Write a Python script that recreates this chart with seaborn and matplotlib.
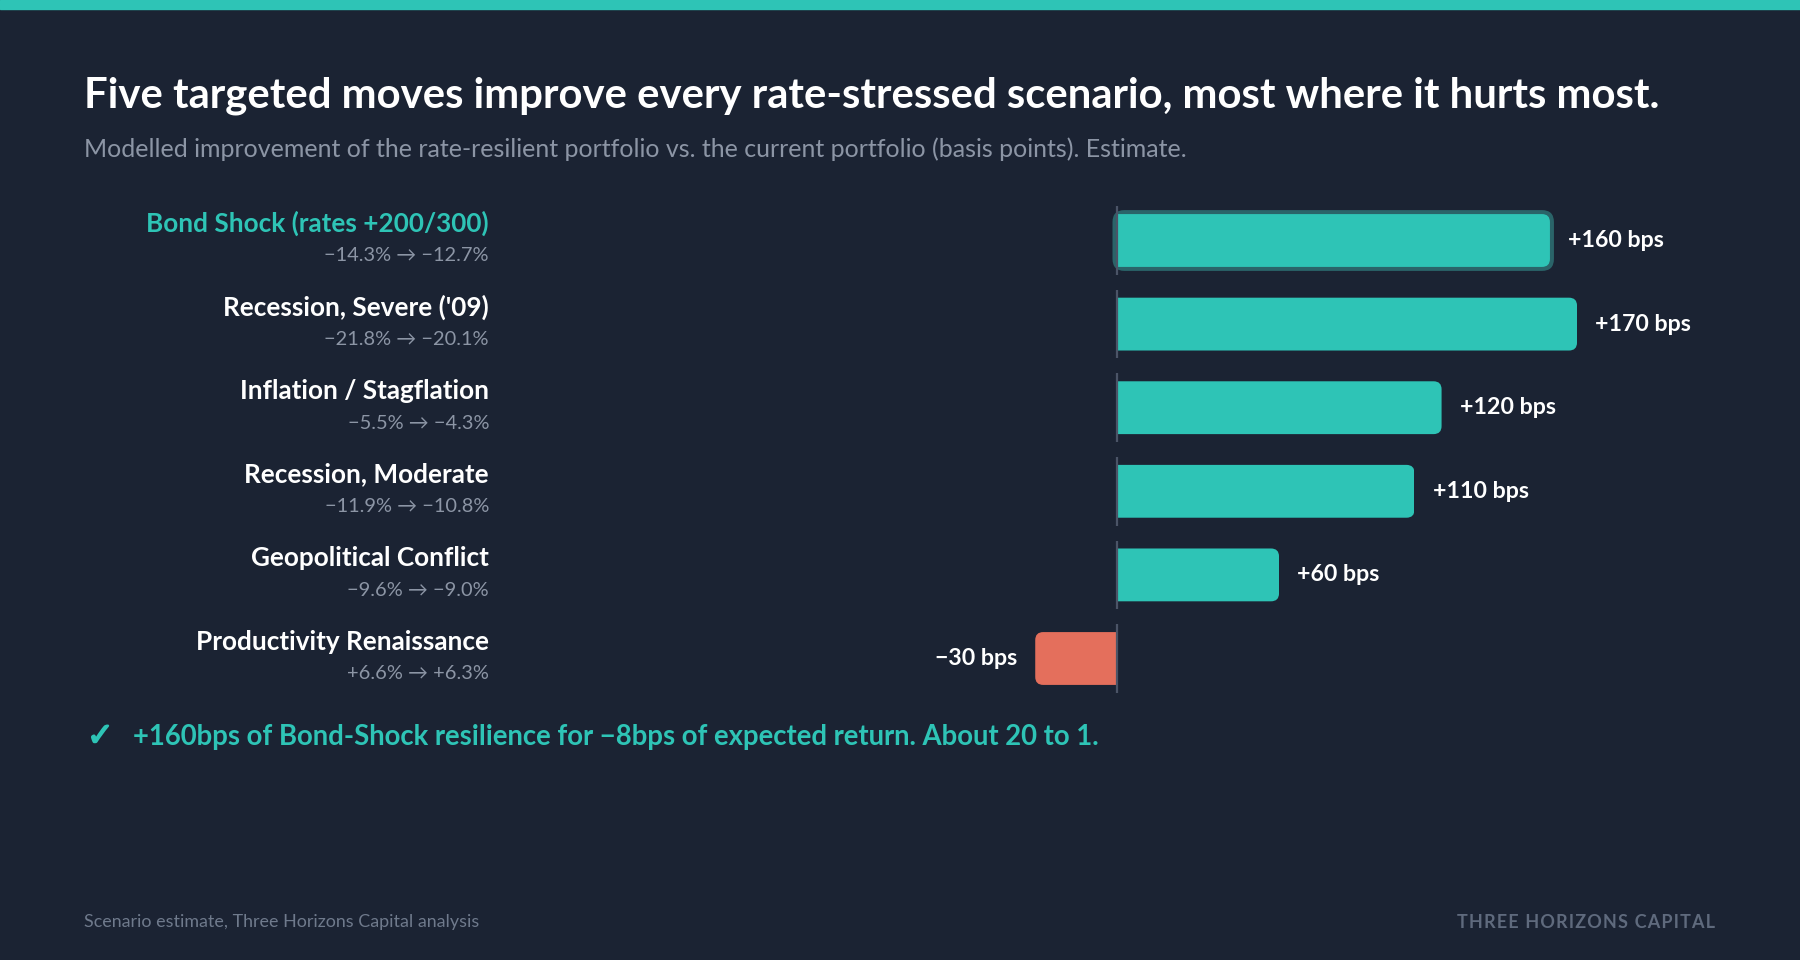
import numpy as np
import pandas as pd
import matplotlib
matplotlib.use('Agg')
import matplotlib.pyplot as plt
from matplotlib.patches import FancyBboxPatch, Rectangle
import matplotlib.patheffects as pe
import matplotlib.transforms as mtransforms
import seaborn as sns

# ---- data ----
scenarios = ['Bond Shock (rates +200/300)', "Recession, Severe ('09)", 'Inflation / Stagflation',
             'Recession, Moderate', 'Geopolitical Conflict', 'Productivity Renaissance']
current_ret = ['\u221214.3%', '\u221221.8%', '\u22125.5%', '\u221211.9%', '\u22129.6%', '+6.6%']
resilient_ret = ['\u221212.7%', '\u221220.1%', '\u22124.3%', '\u221210.8%', '\u22129.0%', '+6.3%']
improvement_bps = [160, 170, 120, 110, 60, -30]
highlight = 'Bond Shock (rates +200/300)'

BG = '#1b2333'
TEAL = '#2ec4b6'
CORAL = '#e46f5c'
WHITE = '#ffffff'
GREY = '#8c95a5'
DIM = '#6f7a8c'

W, H = 1800, 960
PX_X = 2.709   # px per bps
PX_Y = 83.6    # px per row
ZERO_PX = 1116.5


def fx(px):
    return px / W


def fy(py):
    return 1 - py / H


sns.set_style('dark', {'axes.facecolor': BG, 'figure.facecolor': BG})
plt.rcParams['font.family'] = ['Lato', 'DejaVu Sans']

fig = plt.figure(figsize=(18, 9.6), dpi=100, facecolor=BG)

# top accent band
fig.patches.append(Rectangle((0, fy(9)), 1, 9 / H, transform=fig.transFigure,
                             color=TEAL, zorder=0))

ax_left, ax_right = 600, 1750
ax_top, ax_bot = 240.5 - PX_Y / 2, 240.5 + 5.5 * PX_Y
ax = fig.add_axes([fx(ax_left), fy(ax_bot), (ax_right - ax_left) / W, (ax_bot - ax_top) / H])
ax.set_facecolor(BG)

df = pd.DataFrame({'scenario': scenarios, 'bps': improvement_bps})
colors = [TEAL if v >= 0 else CORAL for v in improvement_bps]
sns.barplot(data=df, x='bps', y='scenario', hue='scenario', palette=colors, saturation=1,
            legend=False, orient='h', width=0.632, ax=ax)

ax.set_xlim((ax_left - ZERO_PX) / PX_X, (ax_right - ZERO_PX) / PX_X)
ax.set_ylim(5.5, -0.5)
ax.axis('off')

# rounded ends on the far side of each bar (zero side clipped square)
r = 8 / PX_X
aspect = (1 / PX_Y) / (1 / PX_X)
for p, val, name in zip(list(ax.patches), improvement_bps, scenarios):
    x0, y0, w, h = p.get_x(), p.get_y(), p.get_width(), p.get_height()
    left, width = min(x0, x0 + w), abs(w)
    col = p.get_facecolor()
    p.remove()
    if name == highlight:
        pad_x, pad_y = 4 / PX_X, 4 / PX_Y
        ring = FancyBboxPatch((left - pad_x, y0 - pad_y), width + 2 * pad_x, h + 2 * pad_y,
                              boxstyle=f'round,pad=0,rounding_size={12 / PX_X}',
                              mutation_aspect=aspect, fc='#2a6469', ec='none', zorder=1)
        ax.add_patch(ring)
    ext_left = left - 3 * r if val >= 0 else left
    bar = FancyBboxPatch((ext_left, y0), width + 3 * r, h, boxstyle=f'round,pad=0,rounding_size={r}',
                         mutation_aspect=aspect, fc=col, ec='none', zorder=2)
    ax.add_patch(bar)
    clip = Rectangle((left, y0 - 0.1), width, h + 0.2, transform=ax.transData)
    bar.set_clip_path(clip)

    i = scenarios.index(name)
    sign = '+' if val > 0 else '\u2212'
    ax.annotate(f'{sign}{abs(val)} bps', xy=(val, i), xytext=(13 if val >= 0 else -13, 0),
                textcoords='offset points', ha='left' if val >= 0 else 'right', va='center',
                fontsize=16.7, fontweight='bold', color=WHITE)

# zero axis ticks per row
for i in range(len(scenarios)):
    ax.vlines(0, i - 0.41, i + 0.41, color='#4b5467', lw=1.6, zorder=3)

# row labels
trans = mtransforms.blended_transform_factory(fig.transFigure, ax.transData)
for i, name in enumerate(scenarios):
    ax.text(fx(489), i - 0.2, name, transform=trans, ha='right', va='center',
            fontsize=18.8, fontweight='bold', color=TEAL if name == highlight else WHITE)
    ax.text(fx(489), i + 0.185, f'{current_ret[i]} \u2192 {resilient_ret[i]}', transform=trans,
            ha='right', va='center', fontsize=14.4, color=GREY)

# titles
fig.text(fx(84), fy(96), 'Five targeted moves improve every rate-stressed scenario, most where it hurts most.',
         ha='left', va='center', fontsize=30.2, fontweight='bold', color=WHITE)
fig.text(fx(84), fy(149), 'Modelled improvement of the rate-resilient portfolio vs. the current portfolio '
         '(basis points). Estimate.', ha='left', va='center', fontsize=18, color=GREY)

# callout
fig.text(fx(87), fy(737), '\u2713', ha='left', va='center', fontsize=23, fontweight='bold',
         color=TEAL, family='DejaVu Sans',
         path_effects=[pe.withStroke(linewidth=1.2, foreground=TEAL)])
fig.text(fx(133), fy(737), '+160bps of Bond-Shock resilience for \u22128bps of expected return. About 20 to 1.',
         ha='left', va='center', fontsize=19.8, fontweight='bold', color=TEAL)

# footer
fig.text(fx(84), fy(922), 'Scenario estimate, Three Horizons Capital analysis', ha='left', va='center',
         fontsize=12.9, color=DIM)
fig.text(fx(1715), fy(922), '\u200a'.join('THREE HORIZONS CAPITAL'), ha='right', va='center',
         fontsize=13, fontweight='bold', color='#5f6a7d')

fig.savefig('out.png', dpi=100, facecolor=BG)
